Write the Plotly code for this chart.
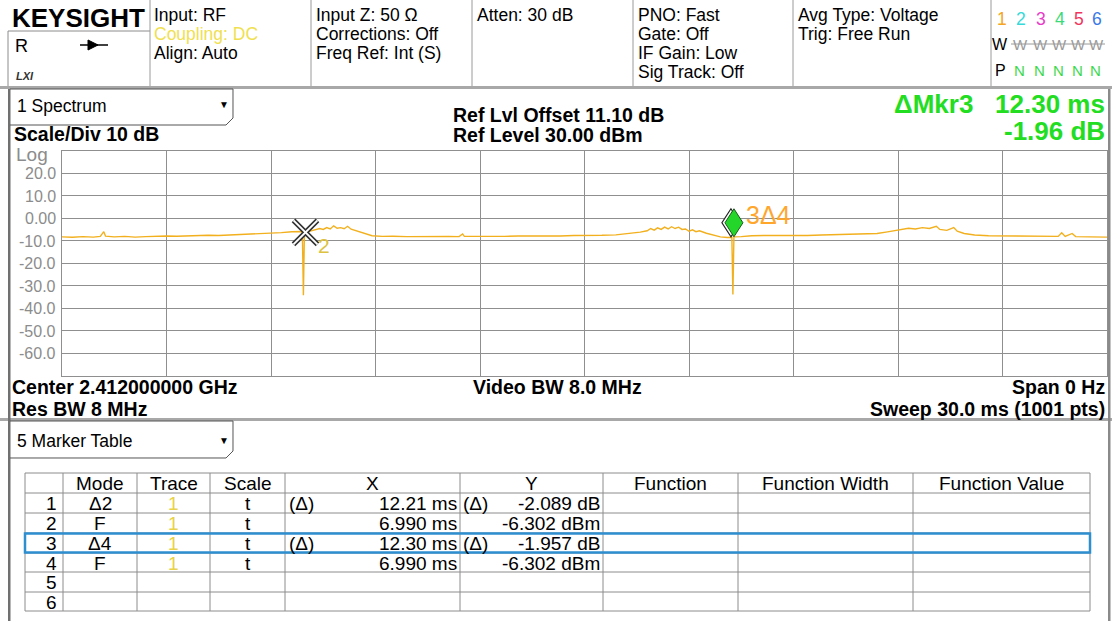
import math
import plotly.graph_objects as go

center_freq_text = "2.412000000 GHz"
res_bw_text = "8 MHz"
video_bw_text = "8.0 MHz"
span_text = "0 Hz"
sweep_ms = 30.0
sweep_pts = 1001
ref_level_dbm = 30.00
ref_offset_db = 11.10
scale_div_db = 10
n_div = 10

header_col1 = ["Input: RF", "Coupling: DC", "Align: Auto"]
header_col2 = ["Input Z: 50 Ω", "Corrections: Off", "Freq Ref: Int (S)"]
header_col3 = ["Atten: 30 dB"]
header_col4 = ["PNO: Fast", "Gate: Off", "IF Gain: Low", "Sig Track: Off"]
header_col5 = ["Avg Type: Voltage", "Trig: Free Run"]
trace_ids = ["1", "2", "3", "4", "5", "6"]
trace_id_colors = ["#F5A623", "#36D9D9", "#E83BC8", "#3BD97A", "#F0365E", "#3A78E8"]

# ---------------- trace 1 (sweep time in ms, level in dBm) ----------------
trace_time_ms = [
    0.0, 0.3, 0.6, 0.9, 1.1, 1.2, 1.25, 1.5, 1.8, 2.1, 2.4, 2.7, 3.0, 3.3, 3.6, 3.9,
    4.2, 4.5, 4.8, 5.1, 5.4, 5.7, 6.0, 6.3, 6.6, 6.8, 6.90, 6.93, 6.96, 6.99,
    7.2, 7.4, 7.5, 7.6, 7.7, 7.8, 7.9, 8.0, 8.1, 8.2, 8.3, 8.5, 8.7, 8.9, 9.2,
    9.5, 9.9, 10.3, 10.7, 11.1, 11.4, 11.5, 11.55, 11.9, 12.3, 12.7, 13.1, 13.5,
    13.9, 14.3, 14.7, 15.1, 15.5, 15.9, 16.3, 16.6, 16.8, 16.9, 17.0, 17.1, 17.2,
    17.3, 17.4, 17.5, 17.6, 17.7, 17.8, 17.9, 18.0, 18.1, 18.2, 18.3, 18.5, 18.7,
    18.9, 19.1, 19.23, 19.26, 19.29, 19.5, 19.8, 20.2, 20.6, 21.0, 21.4, 21.8,
    22.2, 22.6, 23.0, 23.4, 23.7, 24.0, 24.3, 24.5, 24.7, 24.9, 25.1, 25.2, 25.4,
    25.6, 25.7, 25.9, 26.2, 26.6, 27.0, 27.4, 27.8, 28.2, 28.6, 28.7, 28.8, 29.0,
    29.1, 29.5, 30.0,
]
trace_level_dbm = [
    -8.3, -8.5, -8.2, -8.4, -8.1, -6.0, -8.0, -8.3, -8.1, -8.4, -8.2, -8.0, -7.9, -8.0, -7.8, -7.9,
    -7.6, -7.7, -7.5, -7.4, -7.2, -7.0, -6.8, -6.4, -6.0, -5.8, -5.9, -34.2, -6.2, -6.3,
    -5.6, -4.6, -5.0, -4.2, -4.8, -3.4, -4.5, -4.2, -4.7, -3.6, -4.9, -5.8, -7.0, -7.8, -8.1,
    -8.0, -8.2, -8.1, -8.3, -8.1, -8.2, -7.0, -8.1, -8.2, -8.0, -8.1, -7.9, -8.0,
    -7.8, -7.9, -7.7, -7.8, -7.6, -7.4, -6.8, -6.2, -5.6, -4.6, -5.3, -4.3, -5.0,
    -4.0, -4.8, -3.8, -4.6, -4.0, -5.0, -4.8, -5.8, -5.2, -6.0, -5.6, -6.7, -7.6,
    -8.3, -8.6, -8.5, -33.8, -8.3, -8.2, -7.8, -7.7, -7.8, -7.6, -7.7, -7.5,
    -7.4, -7.3, -7.1, -6.8, -6.1, -5.2, -4.5, -4.8, -4.2, -4.6, -3.6, -5.0, -5.4,
    -4.2, -5.8, -6.8, -7.5, -7.8, -7.9, -8.1, -8.0, -8.2, -8.1, -6.5, -8.1, -6.8,
    -8.2, -8.3, -8.4,
]

# ---------------- axis grid / tick labels ----------------
x_grid_ms = [0, 3, 6, 9, 12, 15, 18, 21, 24, 27, 30]
y_grid_dbm = [30, 20, 10, 0, -10, -20, -30, -40, -50, -60, -70]
y_tick_labels = ["", "20.0", "10.0", "0.00", "-10.0", "-20.0", "-30.0", "-40.0", "-50.0", "-60.0", ""]

# ---------------- marker table ----------------
marker_num = ["1", "2", "3", "4", "5", "6"]
marker_mode = ["Δ2", "F", "Δ4", "F", "", ""]
marker_ref = [2, None, 4, None, None, None]
marker_trace = ["1", "1", "1", "1", "", ""]
marker_scale = ["t", "t", "t", "t", "", ""]
marker_x_ms = [12.21, 6.990, 12.30, 6.990, None, None]
marker_y_val = [-2.089, -6.302, -1.957, -6.302, None, None]
active_marker = 3
table_headers = ["", "Mode", "Trace", "Scale", "X", "Y", "Function", "Function Width", "Function Value"]

# ---------------- geometry helpers (pixels) ----------------
W, H = 1112, 621
FONT = "Liberation Sans, Arial, sans-serif"
PLOT_L, PLOT_R, PLOT_T, PLOT_B = 62, 1107, 150.5, 376
HDR = 17.5      # header text size
BOLD = 19.5     # bold label size
TBL = 19        # table text size


def fx(px):
    return px / W


def fy(py):
    return 1 - py / H


def fmt4(v):
    d = max(0, 3 - int(math.floor(math.log10(abs(v)))))
    return f"{v:.{d}f}"


annotations = []
shapes = []


def txt(px, py, s, size=HDR, color="black", bold=False, anchor="left", family=FONT):
    annotations.append(dict(
        x=fx(px), y=fy(py), xref="paper", yref="paper",
        text=f"<b>{s}</b>" if bold else s, showarrow=False,
        xanchor=anchor, yanchor="middle", borderpad=0,
        font=dict(size=size, color=color, family=family)))


def line(x0, y0, x1, y1, color="#8c8c8c", width=1):
    shapes.append(dict(type="line", xref="paper", yref="paper",
                       x0=fx(x0), y0=fy(y0), x1=fx(x1), y1=fy(y1),
                       line=dict(color=color, width=width)))


def rect(x0, y0, x1, y1, fill=None, color="#8c8c8c", width=1):
    shapes.append(dict(type="rect", xref="paper", yref="paper",
                       x0=fx(x0), y0=fy(y0), x1=fx(x1), y1=fy(y1),
                       fillcolor=fill if fill else "rgba(0,0,0,0)",
                       line=dict(color=color, width=width)))


def path(pts, close=False, fill=None, color="black", width=1):
    d = "M " + " L ".join(f"{fx(a):.5f},{fy(b):.5f}" for a, b in pts)
    if close:
        d += " Z"
    shapes.append(dict(type="path", xref="paper", yref="paper", path=d,
                       fillcolor=fill if fill else "rgba(0,0,0,0)",
                       line=dict(color=color, width=width)))


# ---------------- header bar ----------------
txt(11, 18, "KEYSIGHT", size=26, bold=True)
line(8, 31, 150, 31, "#8c8c8c")
line(8, 31, 8, 86, "#8c8c8c")
txt(14, 46, "R", size=18)
line(80, 45, 108, 45, "black", 1.5)
path([(88, 40), (98, 45), (88, 50)], close=True, fill="black", color="black")
txt(15, 76, "<i>LXI</i>", size=11, bold=True, color="#333")

for sx in [150, 311, 472, 633, 793, 991]:
    line(sx, 0, sx, 86, "#9a9a9a")

rows_y = [15, 34, 53, 72]
for i, s in enumerate(header_col1):
    txt(153, rows_y[i], s, color="#F0E050" if i == 1 else "black")
for i, s in enumerate(header_col2):
    txt(315, rows_y[i], s)
for i, s in enumerate(header_col3):
    txt(476, rows_y[i], s)
for i, s in enumerate(header_col4):
    txt(637, rows_y[i], s)
for i, s in enumerate(header_col5):
    txt(797, rows_y[i], s)

id_x = [1002, 1021, 1041, 1060, 1079, 1097]
for i, s in enumerate(trace_ids):
    txt(id_x[i], 19, s, size=17.5, color=trace_id_colors[i], anchor="center")
txt(1000, 45, "W", size=16, anchor="center")
txt(1000, 71, "P", size=16, anchor="center")
for i in range(1, 6):
    txt(id_x[i] - 1, 45, "W", size=15, color="#9a9a9a", anchor="center")
    txt(id_x[i] - 2, 71, "N", size=15, color="#3BD94A", anchor="center")
line(1011, 44, 1105, 44, "#9a9a9a", 1)

# window frame bands
rect(0, 86, W, 89, fill="#a8a8a8", color="#a8a8a8", width=0)
rect(0, 418, W, 421, fill="#a8a8a8", color="#a8a8a8", width=0)
rect(8, 89, 10.5, H, fill="#707070", color="#707070", width=0)
rect(1108, 89, 1110.5, H, fill="#8a8a8a", color="#8a8a8a", width=0)

# ---------------- spectrum window ----------------
path([(10, 89), (233, 89), (233, 118), (226, 125), (10, 125)], color="#555", width=1)
txt(16, 106, "1 Spectrum", size=17.5)
txt(224, 105, "▼", size=10, anchor="center")
txt(13, 134, f"Scale/Div {scale_div_db} dB", size=BOLD, bold=True)
txt(452, 115, f"Ref Lvl Offset {ref_offset_db:.2f} dB", size=BOLD, bold=True)
txt(452, 135, f"Ref Level {ref_level_dbm:.2f} dBm", size=BOLD, bold=True)

act = active_marker - 1
txt(1106, 104, f"ΔMkr{active_marker}&nbsp;&nbsp;&nbsp;{marker_x_ms[act]:.2f} ms", size=26, bold=True,
    color="#22DD22", anchor="right")
txt(1106, 131, f"{marker_y_val[act]:.2f} dB", size=26, bold=True, color="#22DD22", anchor="right")

txt(15, 154, "Log", size=19, color="#8c8c8c")
y_span = ref_level_dbm - n_div * scale_div_db
for v, lab in zip(y_grid_dbm, y_tick_labels):
    if lab:
        py = PLOT_T + (ref_level_dbm - v) / (ref_level_dbm - y_span) * (PLOT_B - PLOT_T)
        txt(57, py + 0.5, lab, size=16, color="#8c8c8c", anchor="right")

txt(11, 387, f"Center {center_freq_text}", size=BOLD, bold=True)
txt(11, 409, f"Res BW {res_bw_text}", size=BOLD, bold=True)
txt(472, 387, f"Video BW {video_bw_text}", size=BOLD, bold=True)
txt(1106, 387, f"Span {span_text}", size=BOLD, bold=True, anchor="right")
txt(1106, 409, f"Sweep {sweep_ms:.1f} ms ({sweep_pts} pts)", size=BOLD, bold=True, anchor="right")

# ---------------- marker table window ----------------
path([(10, 421), (233, 421), (233, 451), (226, 458), (10, 458)], color="#555", width=1)
txt(16, 441, "5 Marker Table", size=17.5)
txt(224, 440, "▼", size=10, anchor="center")

col_x = [25, 63, 137, 210, 285, 460, 603, 738, 913, 1090]
row_y = [473, 493, 513, 533, 553, 572, 592, 611]
for cx in col_x:
    line(cx, row_y[0], cx, row_y[-1], "#8c8c8c")
for ry in row_y:
    line(col_x[0], ry, col_x[-1], ry, "#8c8c8c")

for j, h in enumerate(table_headers):
    if h:
        txt((col_x[j] + col_x[j + 1]) / 2, (row_y[0] + row_y[1]) / 2, h, size=TBL, anchor="center")

for i in range(len(marker_num)):
    cy = (row_y[i + 1] + row_y[i + 2]) / 2 + 0.5
    txt(col_x[1] - 5, cy, marker_num[i], size=TBL, anchor="right")
    if marker_mode[i]:
        txt((col_x[1] + col_x[2]) / 2, cy, marker_mode[i], size=TBL, anchor="center")
    if marker_trace[i]:
        txt((col_x[2] + col_x[3]) / 2, cy, marker_trace[i], size=TBL, color="#E8D24A", anchor="center")
    if marker_scale[i]:
        txt((col_x[3] + col_x[4]) / 2, cy, marker_scale[i], size=TBL, anchor="center")
    if marker_x_ms[i] is not None:
        delta = marker_ref[i] is not None
        if delta:
            txt(col_x[4] + 3, cy, "(Δ)", size=TBL)
            txt(col_x[5] + 2, cy, "(Δ)", size=TBL)
        txt(col_x[5] - 2, cy, f"{fmt4(marker_x_ms[i])} ms", size=TBL, anchor="right")
        unit = "dB" if delta else "dBm"
        txt(col_x[6] - 2, cy, f"{fmt4(marker_y_val[i])} {unit}", size=TBL, anchor="right")

# highlight of the active marker row
hr = active_marker - 1
rect(col_x[0], row_y[hr + 1] + 0.5, col_x[-1], row_y[hr + 2] - 0.5, color="#2E8FD0", width=2.5)


# ---------------- marker positions on the trace ----------------
def abs_x(i):
    if marker_ref[i] is None:
        return marker_x_ms[i]
    return marker_x_ms[i] + abs_x(marker_ref[i] - 1)


def abs_y(i):
    if marker_ref[i] is None:
        return marker_y_val[i]
    return marker_y_val[i] + abs_y(marker_ref[i] - 1)


m_fixed = 3  # marker 4 (fixed) shares place with marker 2
mx_f, my_f = abs_x(m_fixed), abs_y(m_fixed)
m_act = active_marker - 1
mx_a, my_a = abs_x(m_act), abs_y(m_act)

# diamond for the active delta marker (pixel-sized shape anchored on the trace point)
shapes.append(dict(type="path", xref="x", yref="y", xsizemode="pixel", ysizemode="pixel",
                   xanchor=mx_a, yanchor=my_a,
                   path="M -3,0 L -12,14 L -3,28 L 6,14 Z",
                   fillcolor="white", line=dict(color="#222", width=1.2)))
shapes.append(dict(type="path", xref="x", yref="y", xsizemode="pixel", ysizemode="pixel",
                   xanchor=mx_a, yanchor=my_a,
                   path="M 0,0 L -9,14 L 0,28 L 9,14 Z",
                   fillcolor="#25D62A", line=dict(color="#1a5a1a", width=1)))

annotations.append(dict(x=mx_a, y=my_a, xref="x", yref="y", text=f"{active_marker}Δ{marker_ref[m_act]}",
                        showarrow=False, xanchor="left", yanchor="middle", xshift=10, yshift=22,
                        font=dict(size=25, color="#FFA62B", family=FONT)))
annotations.append(dict(x=mx_f, y=my_f, xref="x", yref="y", text="2",
                        showarrow=False, xanchor="center", yanchor="middle", xshift=19, yshift=-13,
                        font=dict(size=21, color="#DCC240", family=FONT)))

# ---------------- figure ----------------
fig = go.Figure()
fig.add_trace(go.Scatter(x=trace_time_ms, y=trace_level_dbm, mode="lines",
                         line=dict(color="#F2B01E", width=1.4), hoverinfo="skip"))
fig.add_trace(go.Scatter(x=[mx_f], y=[my_f], mode="markers", hoverinfo="skip",
                         marker=dict(symbol="x-thin-open", size=24, color="#333333",
                                     line=dict(width=5, color="#333333"))))
fig.add_trace(go.Scatter(x=[mx_f], y=[my_f], mode="markers", hoverinfo="skip",
                         marker=dict(symbol="x-thin-open", size=24, color="white",
                                     line=dict(width=2, color="white"))))

fig.update_layout(
    width=W, height=H, margin=dict(l=0, r=0, t=0, b=0),
    paper_bgcolor="white", plot_bgcolor="white", showlegend=False,
    font=dict(family=FONT),
    xaxis=dict(domain=[fx(PLOT_L), fx(PLOT_R)], range=[0, sweep_ms], tickvals=x_grid_ms,
               showticklabels=False, ticks="", showgrid=True, gridcolor="#8f8f8f", gridwidth=1,
               zeroline=False, showline=True, mirror=True, linecolor="#8f8f8f", linewidth=1,
               fixedrange=True),
    yaxis=dict(domain=[fy(PLOT_B), fy(PLOT_T)], range=[y_span, ref_level_dbm], tickvals=y_grid_dbm,
               showticklabels=False, ticks="", showgrid=True, gridcolor="#8f8f8f", gridwidth=1,
               zeroline=False, showline=True, mirror=True, linecolor="#8f8f8f", linewidth=1,
               fixedrange=True),
    shapes=shapes, annotations=annotations,
)

fig.write_html("out.html", config={"displayModeBar": False},
               post_script="document.body.style.margin='0';document.body.style.overflow='hidden';")
